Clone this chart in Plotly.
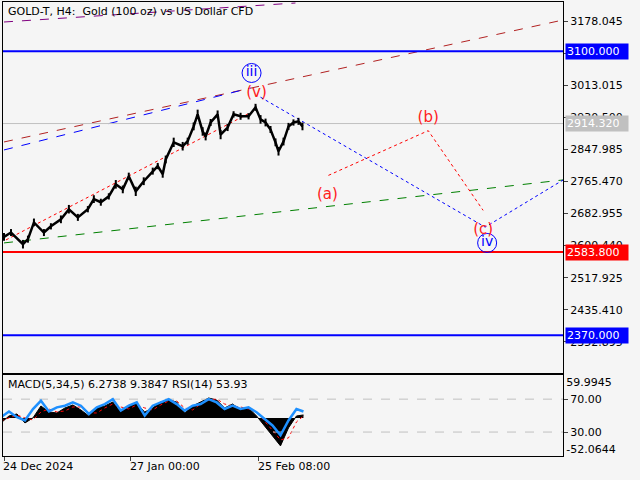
import plotly.graph_objects as go

# ---- data ----
bar_x = [3,10,22,27,33,43,50,60,68,77,87,93,100,108,115,122,128,135,143,152,157,162,165,173,182,187,193,197,202,205,210,217,220,227,233,240,248,255,260,265,270,275,278,283,288,293,298,302]
close = [2623,2634,2604,2617,2660,2634,2650,2668,2694,2673,2694,2720,2712,2727,2758,2745,2779,2740,2766,2792,2805,2784,2822,2866,2856,2869,2907,2938,2894,2881,2917,2938,2886,2904,2938,2933,2933,2956,2925,2917,2899,2866,2843,2868,2907,2917,2920,2907]
wick = [10,9,11,9,10,9,8,10,11,9,8,10,9,8,11,10,9,12,10,9,8,9,10,12,11,9,10,12,11,10,9,10,12,9,8,9,8,9,11,10,9,10,11,10,9,8,9,10]

levels = [3100.0, 2914.32, 2583.8, 2370.0]
level_colors = ["#0000ff", "#c0c0c0", "#ff0000", "#0000ff"]
price_ticks = [3178.045, 3095.530, 3013.015, 2930.500, 2847.985, 2765.470, 2682.955, 2600.440, 2517.925, 2435.410, 2352.895]

wave_abc_x = [328, 428, 483]
wave_abc_y = [2781, 2896, 2691]
wave_main_x = [260, 485, 563]
wave_main_y = [2982, 2648, 2769]

macd_x = [0,8,16,24,32,40,48,56,64,72,80,88,96,104,112,120,128,136,144,152,160,168,176,184,192,200,208,216,224,232,240,248,256,264,272,280,288,296,303]
macd_px = [-5,2,4,-5,0,12,6,5,10,13,8,2,10,12,16,6,12,14,6,10,16,18,16,5,12,16,20,18,10,14,8,10,2,-8,-18,-28,-10,2,3]
signal_px = [-3,0,3,0,-2,6,9,6,7,11,11,5,5,10,14,11,9,13,10,8,13,17,17,10,8,14,18,19,14,12,11,9,6,-3,-12,-22,-20,-4,2]
rsi = [48,55,48,44,58,68,55,60,62,66,62,52,60,64,70,56,62,66,50,62,66,70,64,56,62,64,70,66,58,62,58,60,54,46,38,26,44,58,55]
date_labels = ["24 Dec 2024", "27 Jan 00:00", "25 Feb 08:00"]
date_pos = [3, 130, 258]

PPX = 2.571  # price per pixel
def p(ypx):
    return 3178.045 - (ypx - 21) * PPX

macd = [v * 1.6725 for v in macd_px]
signal = [v * 1.6725 for v in signal_px]

fig = go.Figure()
dash_lines = [
    ([3, 563], [p(142), p(20)], "#b22222", "dash"),
    ([3, 295], [p(22), p(3)], "#800080", "dash"),
    ([3, 250], [p(150), p(88)], "#0000ff", "dash"),
    ([5, 255], [p(240), p(110)], "#ff0000", "dot"),
    ([3, 563], [p(243), p(180)], "#008000", "dash"),
]
for xs, ys, c, d in dash_lines:
    fig.add_trace(go.Scatter(x=xs, y=ys, mode="lines", line=dict(color=c, width=1, dash=d), hoverinfo="skip"))
fig.add_trace(go.Scatter(x=wave_main_x, y=wave_main_y, mode="lines", line=dict(color="#0000ff", width=1, dash="dot")))
fig.add_trace(go.Scatter(x=wave_abc_x, y=wave_abc_y, mode="lines", line=dict(color="#ff0000", width=1, dash="dot")))
for lv, c in zip(levels, level_colors):
    fig.add_trace(go.Scatter(x=[2, 563], y=[lv, lv], mode="lines", line=dict(color=c, width=1 if c == "#c0c0c0" else 2)))

# price: high-low wicks + close line
wx, wy = [], []
for x, c, w in zip(bar_x, close, wick):
    wx += [x, x, None]; wy += [c - w, c + w, None]
fig.add_trace(go.Scatter(x=wx, y=wy, mode="lines", line=dict(color="black", width=2)))
fig.add_trace(go.Scatter(x=bar_x, y=close, mode="lines", line=dict(color="black", width=2.5)))

# wave labels
fig.add_trace(go.Scatter(x=[251, 487], y=[p(73), p(243)], mode="markers+text", text=["iii", "iv"],
                         marker=dict(symbol="circle-open", size=19, color="#0000ff", line=dict(width=1)),
                         textfont=dict(color="#0000ff", size=14, family="DejaVu Sans"), textposition="middle center"))
fig.add_trace(go.Scatter(x=[256, 327, 428, 483], y=[p(93), p(195), p(118), p(230)], mode="text",
                         text=["(v)", "(a)", "(b)", "(c)"], textfont=dict(color="#ff2020", size=15, family="DejaVu Sans")))

# MACD panel
fig.add_trace(go.Scatter(x=macd_x, y=macd, mode="lines", fill="tozeroy", fillcolor="black",
                         line=dict(color="black", width=1), xaxis="x2", yaxis="y2"))
fig.add_trace(go.Scatter(x=macd_x, y=signal, mode="lines", line=dict(color="#ff0000", width=1, dash="dot"), xaxis="x2", yaxis="y2"))
for lv in [70, 30]:
    fig.add_trace(go.Scatter(x=[2, 563], y=[lv, lv], mode="lines", line=dict(color="#c0c0c0", width=1, dash="dash"), xaxis="x2", yaxis="y3"))
fig.add_trace(go.Scatter(x=macd_x, y=rsi, mode="lines", line=dict(color="#1e90ff", width=2.5), xaxis="x2", yaxis="y3"))

font = dict(family="DejaVu Sans", size=11, color="black")
fig.update_layout(
    width=640, height=480, showlegend=False,
    paper_bgcolor="#f5f5f5", plot_bgcolor="#f5f5f5",
    margin=dict(l=3, r=77, t=2, b=24, autoexpand=False), font=font,
    xaxis=dict(range=[2, 563], domain=[0, 1], showgrid=False, showticklabels=False, zeroline=False,
               showline=True, mirror=True, linecolor="black", ticks=""),
    yaxis=dict(range=[2273.0, 3226.9], domain=[0.183, 1], side="right", showgrid=False, zeroline=False,
               tickvals=price_ticks, ticktext=[f"{v:.3f}" for v in price_ticks], ticks="outside", ticklen=4,
               showline=True, mirror=True, linecolor="black"),
    xaxis2=dict(range=[2, 563], domain=[0, 1], anchor="y2", showgrid=False, zeroline=False, showticklabels=False,
                tickvals=date_pos, ticks="outside", ticklen=4, showline=True, mirror=True, linecolor="black"),
    yaxis2=dict(range=[-63.8, 71.7], domain=[0, 0.178], anchor="x2", side="right", showgrid=False, zeroline=False,
                tickvals=[59.9945, -52.0644], ticktext=["59.9945", "-52.0644"], ticks="", showline=True, mirror=True, linecolor="black"),
    yaxis3=dict(range=[0.9, 99.1], overlaying="y2", anchor="x2", side="right", showgrid=False, zeroline=False,
                tickvals=[70, 30], ticktext=["70.00", "30.00"], ticks="outside", ticklen=4),
)
ann = [dict(xref="paper", yref="paper", x=0.005, y=0.997, xanchor="left", yanchor="top",
            text="GOLD-T, H4:  Gold (100 oz) vs US Dollar CFD", showarrow=False, font=font),
       dict(xref="paper", yref="paper", x=0.005, y=0.176, xanchor="left", yanchor="top",
            text="MACD(5,34,5) 6.2738 9.3847 RSI(14) 53.93", showarrow=False, font=font)]
for d, xp in zip(date_labels, date_pos):
    ann.append(dict(xref="x2", yref="paper", x=xp, y=-0.004, xanchor="left", yanchor="top", text=d,
                    showarrow=False, font=font, xshift=-3))
for lv, c in zip(levels, level_colors):
    ann.append(dict(xref="paper", yref="y", x=1, y=lv, xanchor="left", yanchor="middle", text=f"{lv:.3f}",
                    showarrow=False, bgcolor=c, font=dict(family="DejaVu Sans", size=11, color="white"),
                    xshift=2, borderpad=1, width=60, align="left"))
fig.update_layout(annotations=ann)
fig.write_html("out.html", config={"displayModeBar": False},
               post_script="document.body.style.margin='0px';document.body.style.overflow='hidden';")
